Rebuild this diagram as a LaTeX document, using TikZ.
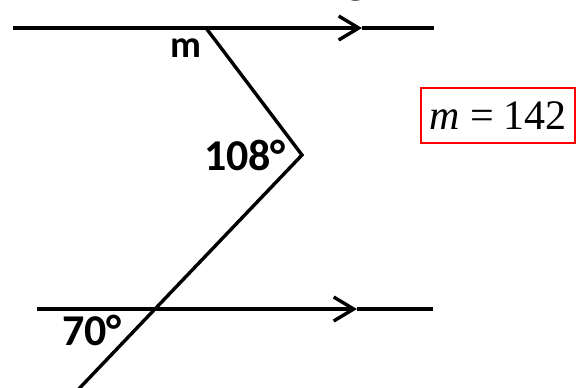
\documentclass[tikz,border=0pt]{standalone}
\usepackage{fontspec}
\newfontfamily\lblfont{Carlito}
\newfontfamily\tnrfont{Liberation Serif}
\usetikzlibrary{arrows.meta, positioning, calc}

\begin{document}
\begin{tikzpicture}[x=1bp, y=-1bp, >={Straight Barb[length=20bp, width=24bp]}]
  % Styles
  \tikzstyle{line} = [draw, line width=3.4bp]
  \tikzstyle{angle} = [inner sep=0pt, font=\lblfont\bfseries\fontsize{44bp}{48bp}\selectfont]
  \tikzstyle{answer} = [draw=red, line width=1.3bp, inner sep=0pt, minimum width=154bp, minimum height=55bp]

  \useasboundingbox (0,0) rectangle (576,387);
  \clip (0,0) rectangle (576,387);

  % Points
  \coordinate (A1) at (13,28);
  \coordinate (A2) at (434,28);
  \coordinate (TA) at (362,28);
  \coordinate (B1) at (37,309);
  \coordinate (B2) at (433,309);
  \coordinate (TB) at (357,309);
  \coordinate (M) at (206,28);
  \coordinate (R) at (302,155);
  \coordinate (P) at (155,309);
  \coordinate (E) at (73,395);

  % Parallel lines
  \draw[line, ->] (A1) -- (TA);
  \draw[line] (TA) -- (A2);
  \draw[line, ->] (B1) -- (TB);
  \draw[line] (TB) -- (B2);

  % Transversal
  \draw[line, line join=miter] (M) -- (R) -- (P) -- (E);

  % Labels
  \node[angle, font=\lblfont\bfseries\fontsize{38bp}{42bp}\selectfont] (lm) at (186,48) {m};
  \node[angle] (l108) at (245,155) {108°};
  \node[angle] (l70) at (92,330) {70°};
  \node[anchor=base, inner sep=0pt, font=\tnrfont\fontsize{40bp}{44bp}\selectfont] (title) at (356,-8) {g};

  % Answer
  \node[answer, font=\tnrfont\fontsize{42bp}{46bp}\selectfont] (ans) at (498,115.5) {\textit{m}\hspace{0.25em}=\hspace{0.22em}142};
\end{tikzpicture}
\end{document}
